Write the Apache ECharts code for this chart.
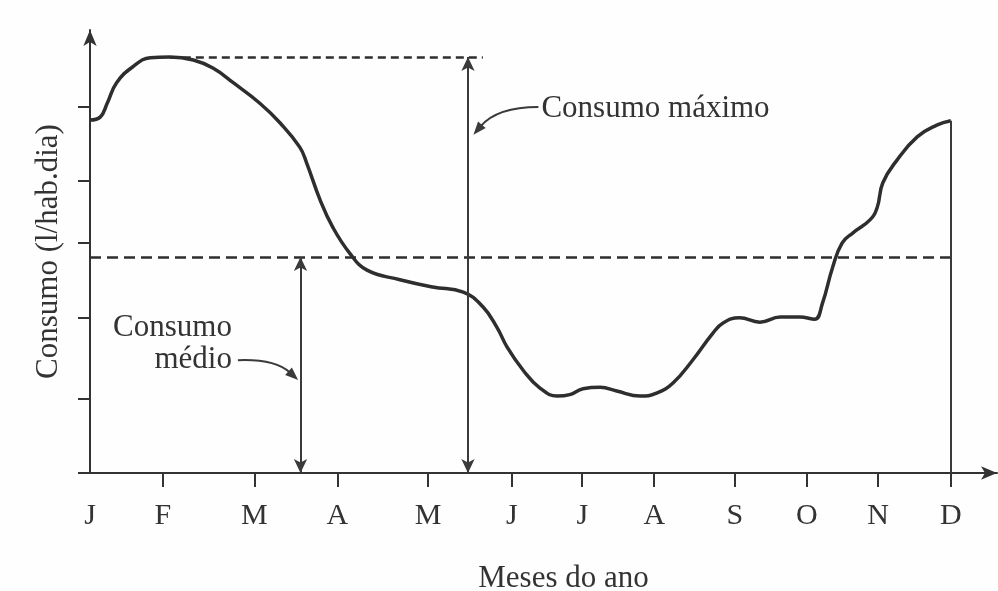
<!DOCTYPE html>
<html>
<head>
<meta charset="utf-8">
<script src="https://cdn.jsdelivr.net/npm/echarts@6/dist/echarts.min.js"></script>
<style>
  html, body { margin: 0; padding: 0; background: #fefefe; }
  #grafico { width: 998px; height: 591px; }
</style>
</head>
<body>
<div id="grafico"></div>
<script>
// meses do ano e posicao dos tracos no eixo (desenho a mao, espacamento irregular)
var meses = ['J', 'F', 'M', 'A', 'M', 'J', 'J', 'A', 'S', 'O', 'N', 'D'];
var posMeses = [0, 0.93, 2.10, 3.16, 4.32, 5.39, 6.29, 7.21, 8.24, 9.16, 10.07, 11.0];
// tracos do eixo vertical (sem rotulos)
var ticksY = [0, 1.01, 2.12, 3.14, 3.99, 5.0];

// curva de consumo
var curvaX = [0, 0.13, 0.22, 0.34, 0.55, 0.77, 1.02, 1.32, 1.57, 1.83, 2.17, 2.43, 2.68, 2.77,
    2.94, 3.10, 3.32, 3.54, 3.96, 4.38, 4.77, 5.02, 5.20, 5.33, 5.53, 5.75, 5.97, 6.13, 6.30,
    6.52, 6.73, 7.03, 7.24, 7.45, 7.70, 7.96, 8.09, 8.30, 8.56, 8.82, 9.07, 9.26, 9.36, 9.49,
    9.61, 9.75, 9.97, 10.06, 10.13, 10.31, 10.57, 10.82, 11.0];
var curvaY = [4.82, 4.86, 5.05, 5.33, 5.55, 5.67, 5.68, 5.64, 5.53, 5.33, 5.05, 4.78, 4.45, 4.23,
    3.73, 3.36, 3.00, 2.77, 2.64, 2.54, 2.47, 2.27, 1.99, 1.72, 1.41, 1.16, 1.05, 1.07, 1.15,
    1.17, 1.12, 1.05, 1.09, 1.23, 1.54, 1.91, 2.05, 2.12, 2.06, 2.13, 2.13, 2.10, 2.32, 2.81,
    3.14, 3.28, 3.46, 3.63, 3.96, 4.27, 4.59, 4.75, 4.81];

var consumoMedio = 2.95;
var xSetaMedio = 2.69;
var xSetaMax = 4.83;
var fimLinhaMax = 5.02;

var corTraco = '#2e2e2e';
var fonte = '"Liberation Serif", "DejaVu Serif", serif';

var dados = curvaX.map(function (x, i) { return [x, curvaY[i]]; });
var maximo = Math.max.apply(null, curvaY);
var xMaximo = curvaX[curvaY.indexOf(maximo)];
var ultimo = dados[dados.length - 1];

var myChart = echarts.init(document.getElementById('grafico'));

function linha(p1, p2, estilo, s1, s2, tam) {
    var a = {coord: p1, symbol: s1 || 'none', lineStyle: estilo};
    var b = {coord: p2, symbol: s2 || 'none', lineStyle: estilo};
    if (tam) { a.symbolSize = tam; b.symbolSize = tam; }
    return [a, b];
}

var tracejado1 = {type: [8, 5], width: 2.5, color: corTraco};
var tracejado2 = {type: [11, 6], width: 2.5, color: corTraco};
var fino = {type: 'solid', width: 2, color: '#3a3a3a'};

// chamadas: inicio junto ao texto, ponto de controle, ponta da seta
var chamadaMax = [[xSetaMax + 0.9, 5.0], [xSetaMax + 0.37, 5.0], [xSetaMax + 0.07, 4.62]];
var chamadaMed = [[xSetaMedio - 0.8, 1.54], [xSetaMedio - 0.33, 1.56], [xSetaMedio - 0.03, 1.27]];

var option = {
    backgroundColor: '#fefefe',
    animation: false,
    grid: {left: 90, right: 1, top: 30, bottom: 118, outerBoundsMode: 'none', containLabel: false},
    xAxis: {
        type: 'value',
        min: 0,
        max: 11.59,
        name: 'Meses do ano',
        nameLocation: 'middle',
        nameGap: 90,
        nameTextStyle: {fontFamily: fonte, fontSize: 31, color: '#333', padding: [0, 0, 0, 40]},
        axisLine: {
            show: true,
            symbol: ['none', 'arrow'],
            symbolSize: [10, 16],
            lineStyle: {color: '#333', width: 2}
        },
        axisTick: {show: true, length: 14, customValues: posMeses.slice(1), lineStyle: {color: '#333', width: 2}},
        axisLabel: {
            customValues: posMeses,
            margin: 28,
            fontFamily: fonte,
            fontSize: 30,
            color: '#333',
            formatter: function (v) {
                var i = posMeses.indexOf(v);
                return i >= 0 ? meses[i] : '';
            }
        },
        splitLine: {show: false}
    },
    yAxis: {
        type: 'value',
        min: 0,
        max: 6.05,
        name: 'Consumo (l/hab.dia)',
        nameLocation: 'middle',
        nameRotate: 90,
        nameGap: 26,
        nameTextStyle: {fontFamily: fonte, fontSize: 31, color: '#333'},
        axisLine: {
            show: true,
            symbol: ['none', 'arrow'],
            symbolSize: [10, 16],
            lineStyle: {color: '#333', width: 2}
        },
        axisTick: {show: true, length: 12, customValues: ticksY, lineStyle: {color: '#333', width: 2}},
        axisLabel: {show: false},
        splitLine: {show: false}
    },
    series: [
        {
            name: 'Consumo',
            type: 'line',
            data: dados,
            smooth: 0.45,
            showSymbol: false,
            lineStyle: {color: corTraco, width: 3.5},
            markLine: {
                silent: true,
                symbol: 'none',
                label: {show: false},
                data: [
                    linha([xMaximo, maximo], [fimLinhaMax, maximo], tracejado1),
                    linha([0, consumoMedio], [ultimo[0], consumoMedio], tracejado2),
                    linha([ultimo[0], 0], [ultimo[0], ultimo[1]], fino),
                    linha([xSetaMax, 0], [xSetaMax, maximo], fino, 'arrow', 'arrow', [10, 14]),
                    linha([xSetaMedio, 0], [xSetaMedio, consumoMedio], fino, 'arrow', 'arrow', [10, 14])
                ]
            }
        }
    ]
};
myChart.setOption(option);

// setas curvas e textos das chamadas
function seta(pts) {
    var p = pts.map(function (c) { return myChart.convertToPixel({gridIndex: 0}, c); });
    var dx = p[2][0] - p[1][0], dy = p[2][1] - p[1][1];
    var d = Math.sqrt(dx * dx + dy * dy);
    var ux = dx / d, uy = dy / d, L = 13, W = 5;
    var bx = p[2][0] - ux * L, by = p[2][1] - uy * L;
    return [
        {
            type: 'bezierCurve',
            shape: {x1: p[0][0], y1: p[0][1], cpx1: p[1][0], cpy1: p[1][1], x2: bx + ux * 2, y2: by + uy * 2},
            style: {stroke: '#3a3a3a', lineWidth: 2, fill: null}
        },
        {
            type: 'polygon',
            shape: {points: [[p[2][0], p[2][1]], [bx - uy * W, by + ux * W], [bx + uy * W, by - ux * W]]},
            style: {fill: '#3a3a3a'}
        }
    ];
}

var pMax = myChart.convertToPixel({gridIndex: 0}, chamadaMax[0]);
var pMed = myChart.convertToPixel({gridIndex: 0}, chamadaMed[0]);

myChart.setOption({
    graphic: seta(chamadaMax).concat(seta(chamadaMed)).concat([
        {type: 'text', left: pMax[0] + 3, top: pMax[1] - 14, style: {text: 'Consumo máximo', font: '31px ' + fonte, fill: '#333'}},
        {type: 'text', right: 998 - pMed[0] + 6, top: pMed[1] - 48, style: {text: 'Consumo', font: '31px ' + fonte, fill: '#333', align: 'right'}},
        {type: 'text', right: 998 - pMed[0] + 6, top: pMed[1] - 16, style: {text: 'médio', font: '31px ' + fonte, fill: '#333', align: 'right'}}
    ])
});
</script>
</body>
</html>
